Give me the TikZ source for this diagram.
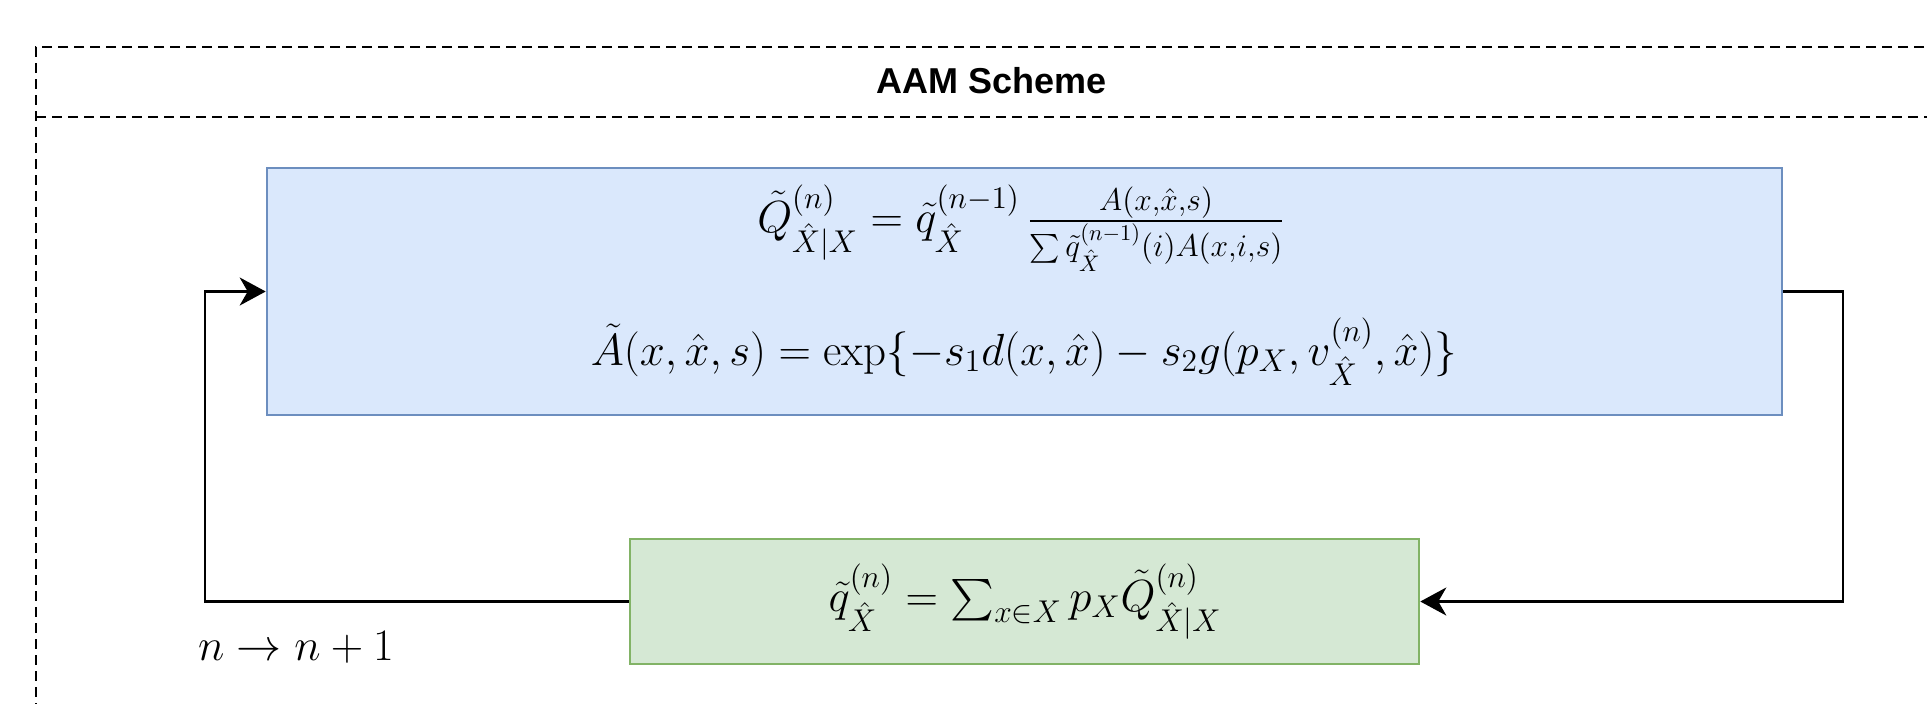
\RequirePackage{fix-cm}
\documentclass[tikz,border=0pt]{standalone}
\usepackage{amsmath}
\usepackage{fontspec}
\newfontfamily\titlefont{Liberation Sans}
\usetikzlibrary{positioning,arrows.meta}
\definecolor{blueFill}{HTML}{DAE8FC}
\definecolor{blueLine}{HTML}{6C8EBF}
\definecolor{greenFill}{HTML}{D5E8D4}
\definecolor{greenLine}{HTML}{82B366}

\begin{document}
\begin{tikzpicture}[x=0.5pt,y=-0.5pt,
    eqn/.style={font=\fontsize{22.5}{27}\selectfont, inner sep=0pt},
    update/.style={draw=blueLine, fill=blueFill, line width=1.3pt, minimum width=757.5pt, minimum height=123.5pt},
    marginal/.style={draw=greenLine, fill=greenFill, line width=1.3pt, minimum width=394.5pt, minimum height=62.5pt},
    loop/.style={line width=1.3pt, -{Stealth[length=13pt,width=14pt,inset=4pt]}}]
\useasboundingbox (0,0) rectangle (1927,703);
\clip (0,0) rectangle (1927,703);

% Container
\draw[line width=1.3pt, dash pattern=on 5pt off 3pt] (1940,47) -- (36,47) -- (36,710);
\draw[line width=1.3pt, dash pattern=on 5pt off 3pt] (36,117) -- (1940,117);
\node[font=\titlefont\bfseries\fontsize{18}{22}\selectfont] (title) at (992,81) {AAM Scheme};

% Blocks
\node[update] (upd) at (1024.5,291.5) {};
\node[marginal] (marg) at (1024.5,601.5) {};

% Equations
\node[eqn, anchor=base] (eqQ) at (1021,232) {$\tilde{Q}^{(n)}_{\hat{X}|X}=\tilde{q}^{(n-1)}_{\hat{X}}\,\frac{A(x,\hat{x},s)}{\sum\tilde{q}^{(n-1)}_{\hat{X}}(i)A(x,i,s)}$};
\node[eqn, anchor=base] (eqA) at (1024,365) {$\tilde{A}(x,\hat{x},s)=\exp\{-s_1d(x,\hat{x})-s_2g(p_X,v^{(n)}_{\hat{X}},\hat{x})\}$};
\node[eqn, anchor=base] (eqq) at (1025,611) {$\tilde{q}^{(n)}_{\hat{X}}=\sum_{x\in X}p_X\tilde{Q}^{(n)}_{\hat{X}|X}$};

% Iteration loop
\coordinate (rturn) at (1843,291.5);
\coordinate (lturn) at (205,601.5);
\draw[loop] (upd.east) -- (rturn) |- (marg.east);
\draw[loop] (marg.west) -- (lturn) |- (upd.west);
\node[eqn, anchor=base] (step) at (296,660) {$n\rightarrow n+1$};
\end{tikzpicture}
\end{document}
